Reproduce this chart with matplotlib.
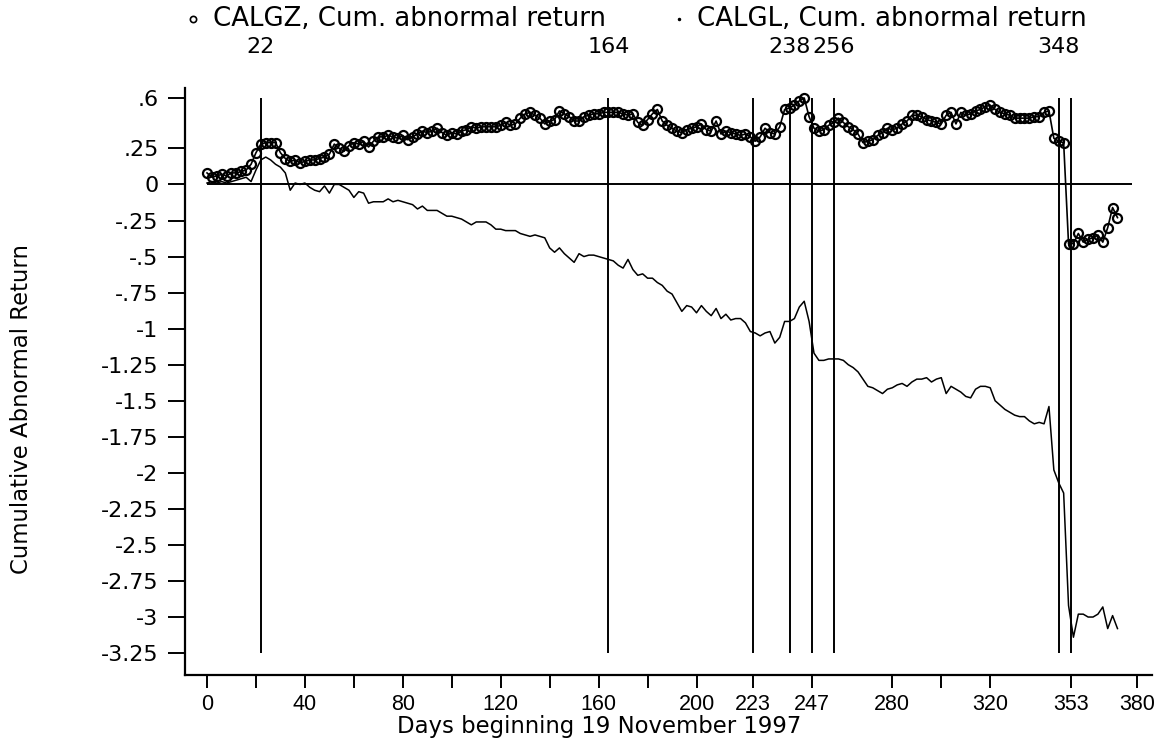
import matplotlib
matplotlib.use("Agg")
import matplotlib.pyplot as plt
from matplotlib.lines import Line2D

# trading days (every second day)
days = list(range(0, 374, 2))

calgz = [.08, .05, .06, .07, .06, .08, .08, .09, .10, .14,
         .22, .28, .29, .29, .29, .22, .18, .16, .17, .15,
         .16, .17, .17, .18, .19, .21, .28, .25, .23, .27,
         .29, .28, .30, .26, .30, .33, .33, .34, .33, .32,
         .34, .31, .33, .35, .37, .36, .37, .39, .36, .34,
         .36, .35, .37, .38, .40, .39, .40, .40, .40, .40,
         .41, .43, .41, .42, .46, .49, .50, .48, .46, .42,
         .44, .45, .51, .49, .47, .44, .44, .47, .48, .49,
         .49, .50, .50, .50, .50, .49, .48, .49, .43, .41,
         .45, .49, .52, .44, .41, .39, .37, .36, .38, .39,
         .40, .42, .38, .37, .44, .35, .37, .36, .35, .34,
         .35, .33, .30, .33, .39, .36, .35, .40, .52, .53,
         .55, .58, .60, .47, .39, .37, .38, .41, .43, .46,
         .43, .40, .38, .35, .29, .30, .31, .34, .36, .39,
         .38, .39, .42, .44, .48, .48, .47, .45, .44, .43,
         .42, .48, .50, .42, .50, .48, .49, .51, .52, .54,
         .55, .52, .50, .49, .48, .46, .46, .46, .46, .47,
         .47, .50, .51, .32, .30, .29, -.41, -.41, -.34, -.40,
         -.38, -.37, -.35, -.40, -.30, -.16, -.23]

calgl = [.01, .02, .01, .02, .01, .02, .03, .04, .05, .02,
         .10, .17, .19, .17, .14, .12, .08, -.04, .01, .00,
         .01, -.02, -.04, -.05, -.01, -.06, .00, .00, -.02, -.04,
         -.09, -.05, -.06, -.13, -.12, -.12, -.12, -.10, -.12, -.11,
         -.12, -.13, -.14, -.17, -.15, -.18, -.18, -.18, -.20, -.22,
         -.22, -.23, -.24, -.26, -.28, -.26, -.26, -.26, -.28, -.31,
         -.31, -.32, -.32, -.32, -.34, -.35, -.36, -.35, -.36, -.37,
         -.44, -.47, -.44, -.48, -.51, -.54, -.48, -.50, -.49, -.49,
         -.50, -.51, -.52, -.53, -.56, -.58, -.52, -.59, -.63, -.62,
         -.65, -.65, -.68, -.70, -.74, -.76, -.82, -.88, -.84, -.85,
         -.89, -.84, -.88, -.91, -.86, -.93, -.90, -.94, -.93, -.93,
         -.96, -1.02, -1.03, -1.05, -1.03, -1.02, -1.10, -1.06, -.95, -.95,
         -.93, -.85, -.81, -.95, -1.17, -1.22, -1.22, -1.21, -1.21, -1.21,
         -1.22, -1.25, -1.27, -1.30, -1.35, -1.40, -1.41, -1.43, -1.45, -1.42,
         -1.41, -1.39, -1.38, -1.40, -1.37, -1.35, -1.35, -1.34, -1.37, -1.35,
         -1.34, -1.45, -1.40, -1.42, -1.44, -1.47, -1.48, -1.42, -1.40, -1.40,
         -1.41, -1.50, -1.53, -1.56, -1.58, -1.60, -1.61, -1.61, -1.64, -1.66,
         -1.65, -1.66, -1.54, -1.98, -2.07, -2.14, -2.92, -3.14, -2.98, -2.98,
         -3.00, -3.00, -2.98, -2.93, -3.08, -2.99, -3.08]

event_days = [22, 164, 223, 238, 247, 256, 348, 353]
top_labels = [22, 164, 238, 256, 348]
xticks_major = [0, 40, 80, 120, 160, 200, 223, 247, 280, 320, 353, 380]
xticks_minor = [20, 60, 100, 140, 180, 300]
yticks = [.6, .25, 0, -.25, -.5, -.75, -1, -1.25, -1.5, -1.75, -2, -2.25, -2.5, -2.75, -3, -3.25]
ytick_labels = ['.6', '.25', '0', '-.25', '-.5', '-.75', '-1', '-1.25', '-1.5', '-1.75',
                '-2', '-2.25', '-2.5', '-2.75', '-3', '-3.25']
legend_labels = ['CALGZ, Cum. abnormal return', 'CALGL, Cum. abnormal return']

W, H = 1155, 738
fig = plt.figure(figsize=(W / 100, H / 100), dpi=100)
ax = fig.add_axes([185 / W, 63 / H, 967 / W, 587 / H])

ax.vlines(event_days, -3.25, .6, color='black', lw=1.4)
ax.hlines(0, 0, 378, color='black', lw=1.4)
ax.plot(days, calgl, color='black', lw=1.1)
ax.plot(days, calgz, color='black', lw=1.2, marker='o', ms=6.5, mfc='none', mec='black', mew=1.6)

ax.set_xlim(-8.99, 386.1)
ax.set_ylim(-3.402, .669)

ax.set_xticks(xticks_major)
ax.set_xticklabels([str(v) for v in xticks_major], family='Liberation Sans', fontsize=15.5)
ax.set_xticks(xticks_minor, minor=True)
ax.set_yticks(yticks)
ax.set_yticklabels(ytick_labels)
ax.tick_params(axis='y', length=12, width=1.4, pad=7, labelsize=16)
ax.tick_params(axis='x', which='both', length=9, width=1.4, pad=5)

for s in ['top', 'right']:
    ax.spines[s].set_visible(False)
ax.spines['left'].set_linewidth(1.6)
ax.spines['bottom'].set_linewidth(1.6)

top = ax.secondary_xaxis('top')
top.set_xticks(top_labels)
top.set_xticklabels([str(v) for v in top_labels])
top.tick_params(length=0, pad=22, labelsize=16)
top.spines['top'].set_visible(False)

fig.text(22 / W, 1 - 409 / H, 'Cumulative Abnormal Return', rotation=90,
         ha='center', va='center', fontsize=16.4)
fig.text(599 / W, 1 - 727 / H, 'Days beginning 19 November 1997',
         ha='center', va='center', fontsize=16.4)

# legend drawn by hand above the plot
fig.add_artist(Line2D([193 / W], [1 - 19 / H], marker='o', ms=4.5, mfc='none', mec='black',
                      mew=1.2, transform=fig.transFigure))
fig.text(213 / W, 1 - 19 / H, legend_labels[0], va='center', fontsize=18.7)
fig.add_artist(Line2D([679 / W], [1 - 19 / H], marker='.', ms=3, color='black',
                      transform=fig.transFigure))
fig.text(697 / W, 1 - 19 / H, legend_labels[1], va='center', fontsize=18.7)

fig.savefig('out.png', dpi=100)
